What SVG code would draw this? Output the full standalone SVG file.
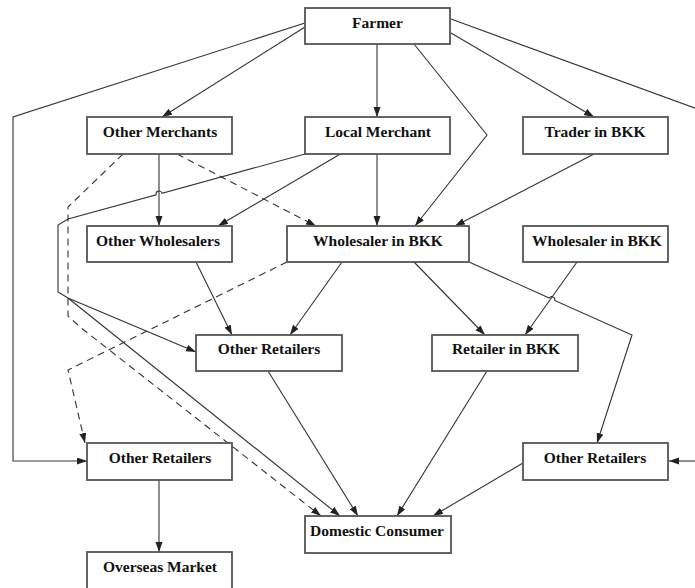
<svg xmlns="http://www.w3.org/2000/svg" width="695" height="588" viewBox="0 0 695 588">
<style>
.box{fill:#fff;stroke:#555;stroke-width:1.8}
.lbl{font-family:"Liberation Serif","Times New Roman",serif;font-weight:bold;font-size:15.5px;fill:#111;text-anchor:middle}
.e{fill:none;stroke:#333;stroke-width:1.1}
.ea{fill:none;stroke:#333;stroke-width:1.1;marker-end:url(#ah)}
.d{stroke-dasharray:7,5}
</style>
<defs>
<marker id="ah" markerUnits="userSpaceOnUse" markerWidth="11" markerHeight="8" refX="10" refY="3.5" orient="auto">
<path d="M0,0 L10,3.5 L0,7 z" fill="#222"/>
</marker>
</defs>
<rect width="695" height="588" fill="#fff"/>
<g id="connectors">
<path class="ea" d="M305,27 L162,117"/>
<path class="ea" d="M305,23 L13,117 L13,461 L87,461"/>
<path class="ea" d="M377,44 L377,117"/>
<path class="ea" d="M414,44 L487,135 L415,226"/>
<path class="ea" d="M451,33 L594,117"/>
<path class="e" d="M451,19 L700,110"/>
<path class="ea" d="M700,461 L669,461"/>
<path class="ea" d="M159,154 L159,226"/>
<path class="ea d" d="M177,154 L316,226"/>
<path class="ea d" d="M123,154 L68,207 L68,316 L80,327 L321,516"/>
<path class="ea" d="M305,154 L162,193.2 A3,3 0 0,0 156.2,194.8 L68,219 L58,225 L58,292 L68,298 L196,352"/>
<path class="ea" d="M68,298 L340,516"/>
<path class="ea" d="M342,153 L218,226"/>
<path class="ea" d="M377,154 L377,226"/>
<path class="ea" d="M594,154 L455,226"/>
<path class="ea" d="M196,262 L232,335"/>
<path class="ea" d="M342,262 L290,335"/>
<path class="ea" d="M414,262 L485,335"/>
<path class="ea" d="M469,262 L549.3,298 A3,3 0 0,1 554.7,300.4 L632,335 L597,443"/>
<path class="ea" d="M577,262 L525,335"/>
<path class="ea d" d="M287,262 L68,370 L85,443"/>
<path class="ea" d="M268,371 L358,516"/>
<path class="ea" d="M487,371 L397,516"/>
<path class="ea" d="M523,463 L433,516"/>
<path class="ea" d="M159,480 L159,552"/>
</g>
<g id="farmer"><rect class="box" x="305" y="8" width="145" height="36"/><text class="lbl" x="377.5" y="28">Farmer</text></g>
<g id="other-merchants"><rect class="box" x="87" y="117" width="145" height="37"/><text class="lbl" x="160" y="137">Other Merchants</text></g>
<g id="local-merchant"><rect class="box" x="305" y="117" width="145" height="37"/><text class="lbl" x="378" y="137">Local Merchant</text></g>
<g id="trader-bkk"><rect class="box" x="523" y="117" width="145" height="37"/><text class="lbl" x="595" y="137">Trader in BKK</text></g>
<g id="other-wholesalers"><rect class="box" x="87" y="226" width="145" height="36"/><text class="lbl" x="158" y="246">Other Wholesalers</text></g>
<g id="wholesaler-bkk"><rect class="box" x="287" y="226" width="182" height="36"/><text class="lbl" x="378" y="246">Wholesaler in BKK</text></g>
<g id="wholesaler-bkk-2"><rect class="box" x="523" y="226" width="145" height="36"/><text class="lbl" x="597" y="246">Wholesaler in BKK</text></g>
<g id="other-retailers-mid"><rect class="box" x="196" y="335" width="146" height="36"/><text class="lbl" x="269" y="354">Other Retailers</text></g>
<g id="retailer-bkk"><rect class="box" x="432" y="335" width="146" height="36"/><text class="lbl" x="506" y="354">Retailer in BKK</text></g>
<g id="other-retailers-left"><rect class="box" x="87" y="443" width="145" height="37"/><text class="lbl" x="160" y="463">Other Retailers</text></g>
<g id="other-retailers-right"><rect class="box" x="523" y="443" width="145" height="37"/><text class="lbl" x="595" y="463">Other Retailers</text></g>
<g id="domestic-consumer"><rect class="box" x="305" y="516" width="146" height="37"/><text class="lbl" x="377" y="536">Domestic Consumer</text></g>
<g id="overseas-market"><rect class="box" x="87" y="552" width="145" height="37"/><text class="lbl" x="160" y="572">Overseas Market</text></g>
</svg>
